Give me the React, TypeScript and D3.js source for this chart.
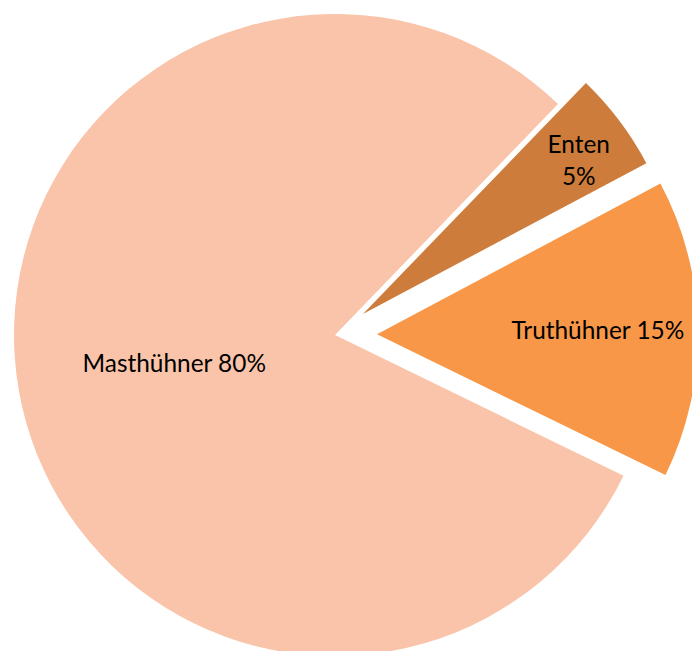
import React from "react";
import * as d3 from "d3";

const categories = ["Enten", "Truthühner", "Masthühner"];
const values = [5, 15, 80];
const labelLines = [["Enten", "5%"], ["Truthühner 15%"], ["Masthühner 80%"]];
const colors = ["#CD7C3B", "#F79747", "#F9C4A9"];
const explode = [35, 42, 0];
// label baseline anchor relative to the slice origin: [angle deg (clockwise from 12 o'clock), radius]
const labelPolar = [
  [56.1, 260],
  [91.3, 221],
  [257, 165],
];

const W = 692;
const H = 651;
const cx = 335;
const cy = 335;
const R = 321;
const startDeg = 44;

export default function App() {
  const pie = d3
    .pie<number>()
    .sort(null)
    .startAngle((startDeg * Math.PI) / 180)
    .endAngle(((startDeg + 360) * Math.PI) / 180);
  const arcs = pie(values);
  const arc = d3.arc<d3.PieArcDatum<number>>().innerRadius(0).outerRadius(R);
  const fontSize = 24.4;
  const lineH = 32;

  return (
    <svg
      width={W}
      height={H}
      style={{ position: "absolute", left: 0, top: 0, background: "#fff" }}
      fontFamily="Lato, 'Noto Sans', sans-serif"
    >
      <g transform={`translate(${cx},${cy})`}>
        {arcs.map((a, i) => {
          const mid = (a.startAngle + a.endAngle) / 2;
          const ox = Math.sin(mid) * explode[i];
          const oy = -Math.cos(mid) * explode[i];
          const [ld, lr] = labelPolar[i];
          const la = (ld * Math.PI) / 180;
          const lx = Math.sin(la) * lr;
          const ly = -Math.cos(la) * lr;
          const lines = labelLines[i];
          const y0 = ly - ((lines.length - 1) * lineH) / 2;
          return (
            <g key={categories[i]} transform={`translate(${ox},${oy})`}>
              <path d={arc(a) || ""} fill={colors[i]} />
              <text
                x={lx}
                y={y0}
                textAnchor="middle"
                fontSize={fontSize}
                fill="#000"
              >
                {lines.map((t, j) => (
                  <tspan key={j} x={lx} y={y0 + j * lineH}>
                    {t}
                  </tspan>
                ))}
              </text>
            </g>
          );
        })}
      </g>
    </svg>
  );
}
